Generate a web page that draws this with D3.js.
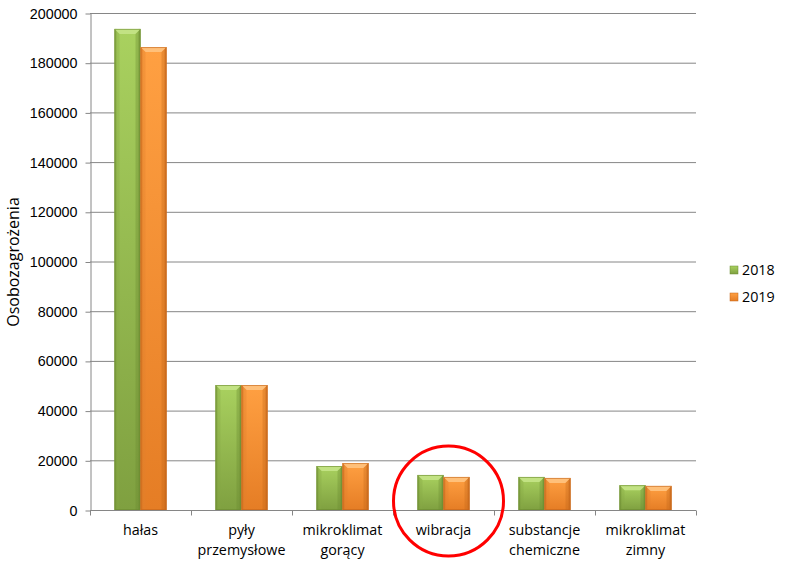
<!DOCTYPE html>
<meta charset="utf-8">
<style>
body { margin: 0; background: #fff; }
svg { display: block; font-family: "Open Sans", "Liberation Sans", sans-serif; }
.grid line { stroke: #868686; stroke-width: 1; }
.axis text { font-size: 14.3px; fill: #000; }
.axis path, .axis line { stroke: #868686; }
</style>
<script src="https://d3js.org/d3.v7.min.js"></script>
<body>
<svg id="chart" width="794" height="571"></svg>
<script>

// data
var categories = ["hałas", "pyły przemysłowe", "mikroklimat gorący", "wibracja", "substancje chemiczne", "mikroklimat zimny"];
var labelLines = [["hałas"], ["pyły", "przemysłowe"], ["mikroklimat", "gorący"], ["wibracja"], ["substancje", "chemiczne"], ["mikroklimat", "zimny"]];
var series = ["2018", "2019"];
var values2018 = [193600, 50300, 17700, 14100, 13300, 10000];
var values2019 = [186300, 50300, 18900, 13300, 12900, 9700];
var yTicks = [0, 20000, 40000, 60000, 80000, 100000, 120000, 140000, 160000, 180000, 200000];

var colors = {
  "2018": { top: "#a9d15f", bottom: "#7fa040", edge: "#6a8a30", bevel: "#c2e283", dark: "#86a846" },
  "2019": { top: "#ffa042", bottom: "#e57d25", edge: "#c4661a", bevel: "#ffc07a", dark: "#e0822e" }
};

var svg = d3.select("#chart");
var plotLeft = 90, plotRight = 696, plotTop = 13, plotBottom = 510;

var x = d3.scaleBand().domain(categories).range([plotLeft, plotRight]);
var xs = d3.scaleBand().domain(series).range([0, 52]);
var y = d3.scaleLinear().domain([0, 200000]).range([plotBottom, plotTop]);

var defs = svg.append("defs");
series.forEach(function(s) {
  var c = colors[s];
  var v = defs.append("linearGradient").attr("id", "v" + s).attr("x1", 0).attr("y1", 0).attr("x2", 0).attr("y2", 1);
  v.append("stop").attr("offset", "0%").attr("stop-color", c.top);
  v.append("stop").attr("offset", "100%").attr("stop-color", c.bottom);
  var h = defs.append("linearGradient").attr("id", "h" + s).attr("x1", 0).attr("y1", 0).attr("x2", 1).attr("y2", 0);
  h.append("stop").attr("offset", "0%").attr("stop-color", c.edge).attr("stop-opacity", 0.7);
  h.append("stop").attr("offset", "12%").attr("stop-color", c.edge).attr("stop-opacity", 0);
  h.append("stop").attr("offset", "88%").attr("stop-color", c.edge).attr("stop-opacity", 0);
  h.append("stop").attr("offset", "100%").attr("stop-color", c.edge).attr("stop-opacity", 0.8);
});

// gridlines
svg.append("g").attr("class", "grid")
  .selectAll("line").data(yTicks.slice(1)).enter().append("line")
  .attr("x1", plotLeft).attr("x2", plotRight)
  .attr("y1", function(d) { return y(d) + 0.5; }).attr("y2", function(d) { return y(d) + 0.5; });

// y axis
svg.append("g").attr("class", "axis")
  .attr("transform", "translate(" + (plotLeft + 0.5) + ",0.5)")
  .call(d3.axisLeft(y).tickValues(yTicks).tickFormat(d3.format("d")).tickSize(5).tickPadding(8).tickSizeOuter(0));

// x axis
var xAxis = svg.append("g").attr("class", "axis")
  .attr("transform", "translate(0," + (plotBottom + 0.5) + ")");
xAxis.append("line").attr("x1", plotLeft).attr("x2", plotRight).attr("stroke", "#868686");
xAxis.selectAll(".tk").data(d3.range(categories.length + 1)).enter().append("line")
  .attr("x1", function(i) { return Math.round(plotLeft + i * x.step()) + 0.5; })
  .attr("x2", function(i) { return Math.round(plotLeft + i * x.step()) + 0.5; })
  .attr("y1", 0).attr("y2", 5).attr("stroke", "#868686");
xAxis.selectAll(".lbl").data(categories).enter().append("text")
  .attr("text-anchor", "middle")
  .attr("x", function(d) { return x(d) + x.bandwidth() / 2; })
  .attr("y", 24)
  .each(function(d, i) {
    var t = d3.select(this);
    labelLines[i].forEach(function(line, j) {
      t.append("tspan").attr("x", x(d) + x.bandwidth() / 2).attr("dy", j === 0 ? 0 : 20).text(line);
    });
  });

// bars
var rows = [];
categories.forEach(function(c, i) {
  rows.push({ cat: c, s: "2018", v: values2018[i] });
  rows.push({ cat: c, s: "2019", v: values2019[i] });
});

var bars = svg.append("g").selectAll("g").data(rows).enter().append("g")
  .attr("transform", function(d) {
    return "translate(" + (x(d.cat) + (x.bandwidth() - 52) / 2 + xs(d.s)) + "," + y(d.v) + ")";
  });

bars.each(function(d) {
  var g = d3.select(this);
  var w = xs.bandwidth(), h = plotBottom - y(d.v), b = 5, c = colors[d.s];
  g.append("rect").attr("width", w).attr("height", h).attr("fill", "url(#v" + d.s + ")");
  g.append("rect").attr("width", w).attr("height", h).attr("fill", "url(#h" + d.s + ")");
  // top bevel
  g.append("polygon").attr("points", [[0, 0], [w, 0], [w - b, b], [b, b]].join(" ")).attr("fill", c.bevel);
  g.append("polygon").attr("points", [[0, 0], [b, b], [b, h], [0, h]].join(" ")).attr("fill", c.dark).attr("opacity", 0.35);
  g.append("polygon").attr("points", [[w, 0], [w - b, b], [w - b, h], [w, h]].join(" ")).attr("fill", c.edge).attr("opacity", 0.35);
  g.append("rect").attr("x", 0.5).attr("y", 0.5).attr("width", w - 1).attr("height", h - 1)
    .attr("fill", "none").attr("stroke", c.edge).attr("stroke-opacity", 0.6);
});

// y axis title
svg.append("text")
  .attr("transform", "translate(19,262) rotate(-90)")
  .attr("text-anchor", "middle")
  .style("font-size", "16px")
  .text("Osobozagrożenia");

// legend
var legend = svg.append("g").selectAll("g").data(series).enter().append("g")
  .attr("transform", function(d, i) { return "translate(730," + (266 + i * 27) + ")"; });
legend.append("rect").attr("width", 8).attr("height", 8).attr("fill", function(d) { return "url(#v" + d + ")"; })
  .attr("stroke", function(d) { return colors[d].edge; }).attr("stroke-width", 0.5);
legend.append("text").attr("x", 12).attr("y", 9).style("font-size", "14.3px").text(function(d) { return d; });

// red annotation circle round "wibracja"
svg.append("circle")
  .attr("cx", x("wibracja") + x.bandwidth() / 2 + 5).attr("cy", 501).attr("r", 55)
  .attr("fill", "none").attr("stroke", "#ff0000").attr("stroke-width", 3);

</script>
</body>
